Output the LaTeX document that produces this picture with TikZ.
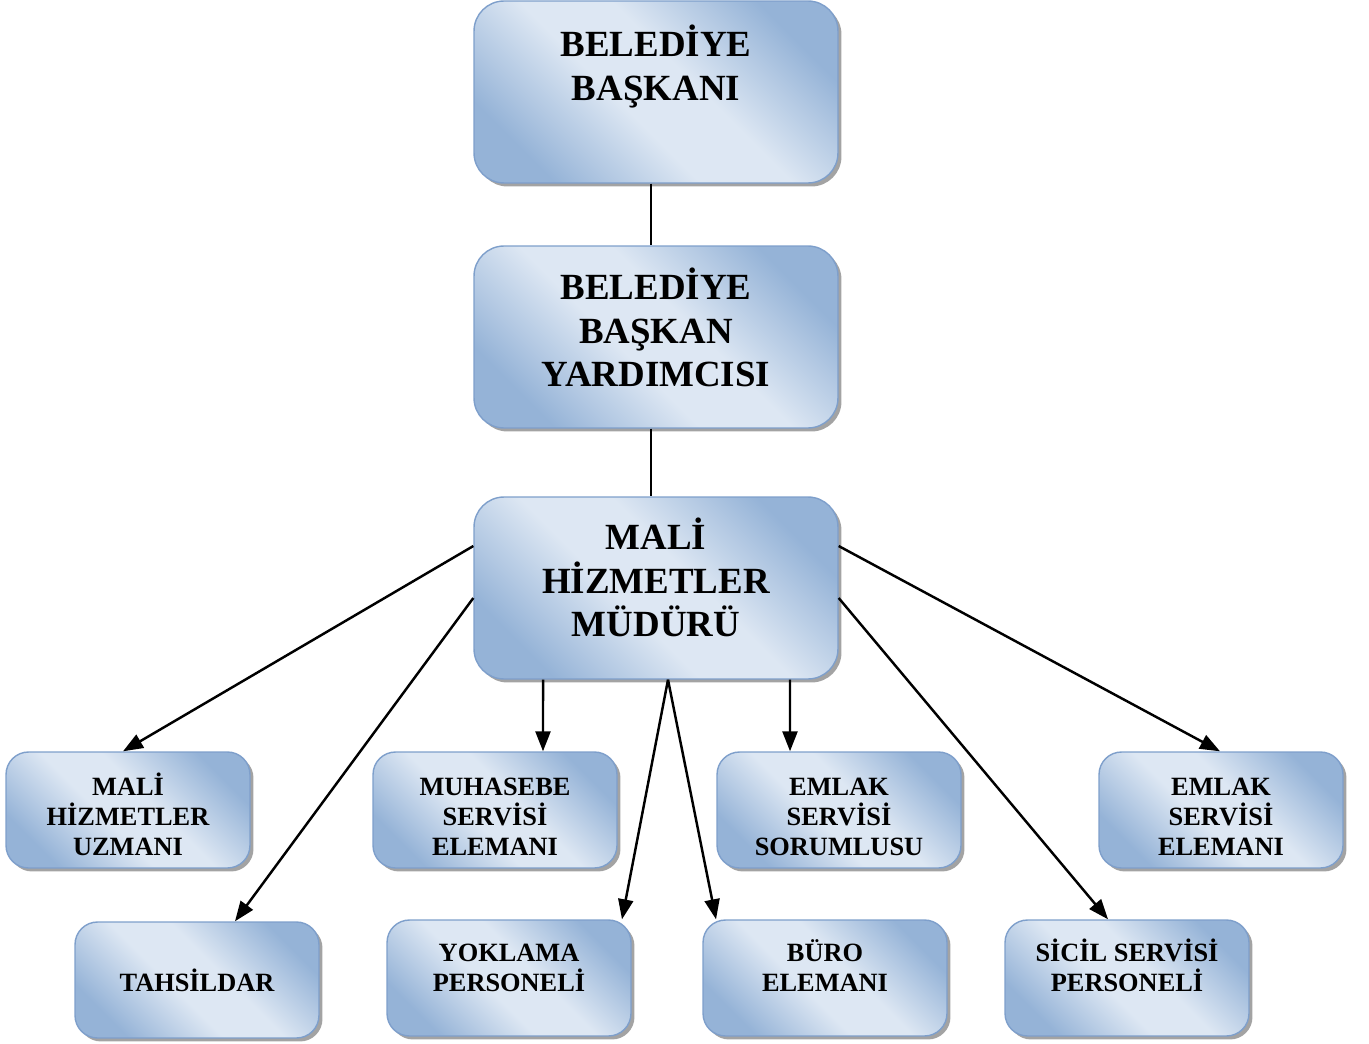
\documentclass[tikz,border=0pt]{standalone}
\usepackage{fontspec}
\setmainfont{Liberation Serif}
\usetikzlibrary{arrows.meta,shadows}
\definecolor{boxlight}{HTML}{DDE7F3}
\definecolor{boxdark}{HTML}{95B3D7}
\definecolor{boxline}{HTML}{7E9FCB}
\pgfdeclareverticalshading{boxshade}{100bp}{color(0bp)=(boxdark); color(25bp)=(boxdark);
  color(44bp)=(boxlight); color(56bp)=(boxlight); color(75bp)=(boxdark); color(100bp)=(boxdark)}
\begin{document}
\begin{tikzpicture}[x=0.02cm,y=-0.02cm,
       box/.style={rectangle,draw=boxline,line width=0.8pt,shading=boxshade,shading angle=-45,align=center,
                   drop shadow={shadow xshift=0.07cm,shadow yshift=-0.07cm,fill=black!45,opacity=0.8}},
	   big/.style={box,rounded corners=0.6cm,minimum width=7.28cm,minimum height=3.64cm,
	               font=\bfseries\fontsize{21}{25}\selectfont},
	   small/.style={box,rounded corners=0.45cm,minimum width=4.88cm,minimum height=2.32cm,
	               font=\bfseries\fontsize{15}{17}\selectfont},
	   txt/.style={text height=#1,text depth=0pt},
	   link/.style={line width=1.4pt},
	   arr/.style={line width=1.4pt,-{Triangle[length=4mm,width=3mm]}}]
   \useasboundingbox (0,0) rectangle (1369,1044);
   \node [big,txt=0.34cm] (bsk) at (656,92) {BELEDİYE\\BAŞKANI};
   \node [big,txt=2.0cm] (yrd) at (656,337) {BELEDİYE\\BAŞKAN\\YARDIMCISI};
   \node [big,txt=1.96cm] (mud) at (656,588) {MALİ\\HİZMETLER\\MÜDÜRÜ};
   % first row
   \node [small,txt=1.82cm] (uzm) at (128,810) {MALİ\\HİZMETLER\\UZMANI};
   \node [small,txt=1.82cm] (muh) at (495,810) {MUHASEBE\\SERVİSİ\\ELEMANI};
   \node [small,txt=1.82cm] (ems) at (839,810) {EMLAK\\SERVİSİ\\SORUMLUSU};
   \node [small,txt=1.82cm] (eme) at (1221,810) {EMLAK\\SERVİSİ\\ELEMANI};
   % second row
   \node [small] (tah) at (197,980) {TAHSİLDAR};
   \node [small,txt=0.54cm] (ykl) at (509,978) {YOKLAMA\\PERSONELİ};
   \node [small,txt=0.54cm] (bur) at (825,978) {BÜRO\\ELEMANI};
   \node [small,txt=0.54cm] (scl) at (1127,978) {SİCİL SERVİSİ\\PERSONELİ};
   \draw [link] ([xshift=-0.1cm]bsk.south) -- ([xshift=-0.1cm]yrd.north);
   \draw [link] ([xshift=-0.1cm]yrd.south) -- ([xshift=-0.1cm]mud.north);
   \draw [arr] ([yshift=0.84cm]mud.west) -- ([xshift=-0.1cm]uzm.north);
   \draw [arr] ([yshift=-0.2cm]mud.west) -- ([xshift=0.76cm]tah.north);
   \draw [arr] ([xshift=-2.26cm]mud.south) -- ([xshift=0.96cm]muh.north);
   \draw [arr] ([xshift=0.24cm]mud.south) -- ([xshift=2.26cm]ykl.north);
   \draw [arr] ([xshift=0.24cm]mud.south) -- ([xshift=-2.18cm]bur.north);
   \draw [arr] ([xshift=2.68cm]mud.south) -- ([xshift=-0.98cm]ems.north);
   \draw [arr] ([yshift=-0.2cm]mud.east) -- ([xshift=-0.38cm]scl.north);
   \draw [arr] ([yshift=0.84cm]mud.east) -- ([xshift=-0.02cm]eme.north);
\end{tikzpicture}
\end{document}
